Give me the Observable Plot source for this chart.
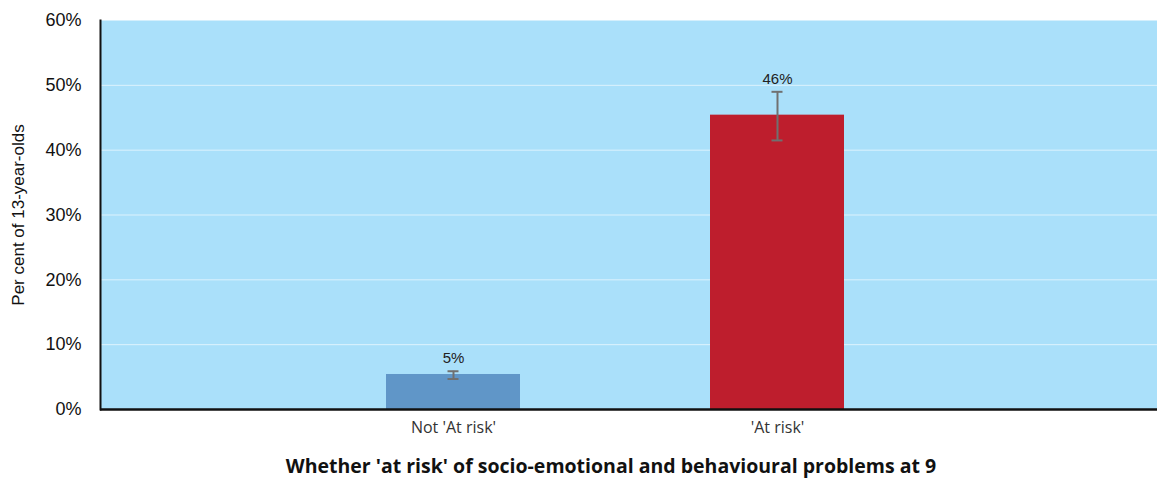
<!DOCTYPE html>
<html>
<head>
<meta charset="utf-8">
<script src="https://cdn.jsdelivr.net/npm/d3@7"></script>
<script src="https://cdn.jsdelivr.net/npm/@observablehq/plot@0.6"></script>
<style>
  html, body { margin: 0; padding: 0; background: #fff; }
  #chart svg { display: block; }
</style>
</head>
<body>
<div id="chart"></div>
<script>
const categories = ["Not 'At risk'", "'At risk'"];
const values = [5.4, 45.4];
const lower = [4.7, 41.5];
const upper = [5.9, 49.0];
const labels = ["5%", "46%"];
const colors = ["#6096c8", "#be1e2d"];
const yTicks = [0, 10, 20, 30, 40, 50, 60];
const gridValues = [10, 20, 30, 40, 50];
const yTitle = "Per cent of 13-year-olds";
const xTitle = "Whether 'at risk' of socio-emotional and behavioural problems at 9";

const data = categories.map((c, i) => ({
  category: c, value: values[i], lo: lower[i], hi: upper[i], label: labels[i], color: colors[i]
}));

const chart = Plot.plot({
  width: 1157,
  height: 479,
  marginTop: 20,
  marginBottom: 70,
  marginLeft: 100,
  marginRight: 0,
  style: { fontFamily: "'Liberation Sans', Arial, sans-serif", background: "#fff" },
  x: { domain: categories, paddingInner: 0.586, paddingOuter: 0.924, align: 0.477, label: null },
  y: { domain: [0, 60], label: null },
  marks: [
    Plot.frame({ fill: "#aae0fa", stroke: "none" }),
    Plot.ruleY(gridValues, { stroke: "#ffffff", strokeOpacity: 0.6, strokeWidth: 1 }),
    Plot.barY(data, { x: "category", y: "value", fill: "color" }),
    Plot.ruleX(data, { x: "category", y1: "lo", y2: "hi", stroke: "#707070", strokeWidth: 2 }),
    Plot.tickY(data, { x: "category", y: "hi", stroke: "#707070", strokeWidth: 2, insetLeft: 61.5, insetRight: 61.5 }),
    Plot.tickY(data, { x: "category", y: "lo", stroke: "#707070", strokeWidth: 2, insetLeft: 61.5, insetRight: 61.5 }),
    Plot.text(data, { x: "category", y: "hi", text: "label", dy: -8, lineAnchor: "bottom", fontSize: 15, fill: "#222" }),
    Plot.axisY({ ticks: yTicks, tickFormat: d => d + "%", tickSize: 0, tickPadding: 19, fontSize: 18, label: null, color: "#111" }),
    Plot.axisX({ tickSize: 0, tickPadding: 12, fontSize: 16, fontFamily: "'Open Sans', sans-serif", label: null, color: "#333" }),
    Plot.frame({ anchor: "left", stroke: "#111", strokeWidth: 2 }),
    Plot.ruleY([0], { stroke: "#111", strokeWidth: 2.5 }),
    Plot.text([yTitle], { frameAnchor: "left", textAnchor: "middle", dx: -82, rotate: -90, fontSize: 17, fill: "#111", text: d => d }),
    Plot.text([xTitle], { frameAnchor: "bottom", dx: -18, dy: 63, fontSize: 19.5, fontWeight: "bold", fontFamily: "'Open Sans', sans-serif", fill: "#111", text: d => d })
  ]
});
document.getElementById("chart").appendChild(chart);
</script>
</body>
</html>
